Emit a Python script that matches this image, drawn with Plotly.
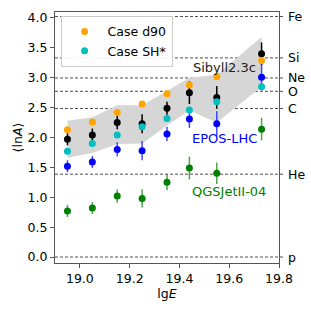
import plotly.graph_objects as go

lgE = [18.95, 19.05, 19.15, 19.25, 19.35, 19.44, 19.55, 19.73]

data_lnA = [1.97, 2.04, 2.25, 2.23, 2.49, 2.75, 2.67, 3.40]
data_err = [0.10, 0.11, 0.11, 0.16, 0.11, 0.19, 0.19, 0.19]

epos_lnA = [1.52, 1.59, 1.80, 1.78, 2.06, 2.31, 2.23, 3.01]
epos_err = [0.10, 0.10, 0.12, 0.16, 0.12, 0.15, 0.21, 0.22]

qgs_lnA = [0.77, 0.82, 1.02, 0.98, 1.25, 1.49, 1.40, 2.14]
qgs_err = [0.10, 0.10, 0.11, 0.15, 0.13, 0.19, 0.18, 0.19]

case_d90 = [2.13, 2.26, 2.42, 2.56, 2.73, 2.88, 3.02, 3.29]
case_sh = [1.77, 1.90, 2.04, 2.18, 2.32, 2.46, 2.60, 2.85]

sib_upper = [2.28, 2.34, 2.54, 2.54, 2.78, 3.00, 3.05, 3.68]
sib_lower = [1.66, 1.74, 1.89, 1.90, 2.20, 2.45, 2.25, 2.85]

elements = ["p", "He", "C", "O", "Ne", "Si", "Fe"]
element_lnA = [0.0, 1.386, 2.485, 2.773, 2.996, 3.332, 4.025]

x_ticks = [19.0, 19.2, 19.4, 19.6, 19.8]
y_ticks = [0.0, 0.5, 1.0, 1.5, 2.0, 2.5, 3.0, 3.5, 4.0]

FONT = "DejaVu Sans"

fig = go.Figure()

# Sibyll band
fig.add_trace(go.Scatter(
    x=lgE + lgE[::-1], y=sib_upper + sib_lower[::-1],
    fill="toself", fillcolor="rgb(214,214,214)", line=dict(width=0),
    mode="lines", showlegend=False, hoverinfo="skip"))

def errpts(y, err, color, barcolor):
    fig.add_trace(go.Scatter(
        x=lgE, y=y, mode="markers",
        marker=dict(color=color, size=7),
        error_y=dict(type="data", array=err, color=barcolor, thickness=1.5, width=0),
        showlegend=False))

errpts(data_lnA, data_err, "black", "black")
errpts(epos_lnA, epos_err, "blue", "rgba(40,40,255,0.85)")
errpts(qgs_lnA, qgs_err, "green", "rgba(0,128,0,0.7)")

fig.add_trace(go.Scatter(x=lgE, y=case_d90, mode="markers",
                         marker=dict(color="orange", size=7), name="Case d90"))
fig.add_trace(go.Scatter(x=lgE, y=case_sh, mode="markers",
                         marker=dict(color="#00BFBF", size=7), name="Case SH*"))

for el, v in zip(elements, element_lnA):
    fig.add_shape(type="line", xref="paper", yref="y", x0=0, x1=1.02, y0=v, y1=v,
                  line=dict(color="#222222", width=0.8, dash="3px,2px"), layer="below")
    fig.add_annotation(xref="paper", yref="y", x=1.03, y=v, text=el, showarrow=False,
                       xanchor="left", yanchor="middle",
                       font=dict(family=FONT, size=12.5, color="black"))

fig.add_annotation(x=19.58, y=3.17, text="Sibyll2.3c", showarrow=False,
                   font=dict(family=FONT, size=13, color="#222222"))
fig.add_annotation(x=19.58, y=1.99, text="EPOS-LHC", showarrow=False,
                   font=dict(family=FONT, size=13, color="blue"))
fig.add_annotation(x=19.60, y=1.10, text="QGSJetII-04", showarrow=False,
                   font=dict(family=FONT, size=13, color="green"))

axis_common = dict(showgrid=False, zeroline=False, showline=True, linecolor="#555555",
                   linewidth=1, mirror=True, ticks="outside", ticklen=4,
                   tickcolor="#555555", tickfont=dict(family=FONT, size=12.5, color="black"))

fig.update_xaxes(range=[18.9, 19.8], tickvals=x_ticks,
                 ticktext=[f"{v:.1f}" for v in x_ticks],
                 title=dict(text="lg<i>E</i>", font=dict(family=FONT, size=12.5, color="black"),
                            standoff=4),
                 **axis_common)
fig.update_yaxes(range=[-0.1, 4.1], tickvals=y_ticks,
                 ticktext=[f"{v:.1f}" for v in y_ticks],
                 title=dict(text="⟨ln<i>A</i>⟩", font=dict(family=FONT, size=12.5, color="black"),
                            standoff=2),
                 **axis_common)

fig.update_layout(
    width=311, height=312,
    margin=dict(l=55, r=32, t=10, b=49),
    plot_bgcolor="white", paper_bgcolor="white",
    font=dict(family=FONT, size=12.5, color="black"),
    legend=dict(x=0.025, y=0.985, xanchor="left", yanchor="top",
                bgcolor="rgba(255,255,255,0.9)", bordercolor="#cccccc", borderwidth=1,
                font=dict(family=FONT, size=12.5), itemwidth=36, tracegroupgap=2),
)

fig.write_html("out.html", config={"displayModeBar": False},
               post_script="document.body.style.margin='0';document.body.style.padding='0';")
